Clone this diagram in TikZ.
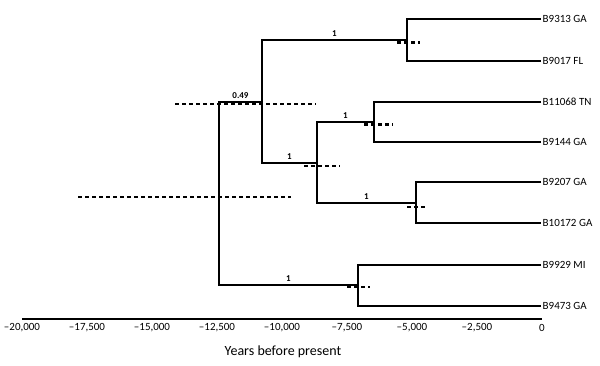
\documentclass[tikz,border=0pt]{standalone}
\usepackage{fontspec}
\setmainfont{Carlito}
\begin{document}
\begin{tikzpicture}[x=1pt,y=-1pt,
  tree/.style={line width=1.3pt},
  hpd/.style={line width=2.4pt,dash pattern=on 3.5pt off 3.5pt},
  tip/.style={anchor=west,inner sep=1.5pt,font=\fontsize{11}{13}\selectfont},
  lbl/.style={above=2.5pt,inner sep=0.5pt,font=\bfseries\fontsize{9}{10}\selectfont},
  ticklab/.style={font=\fontsize{11}{13}\selectfont},
  axis/.style={line width=1.6pt}]
\useasboundingbox (0,0) rectangle (600,365);
% tips
\node[tip] (t1) at (541,19) {B9313 GA};
\node[tip] (t2) at (541,61) {B9017 FL};
\node[tip] (t3) at (541,102) {B11068 TN};
\node[tip] (t4) at (541,142) {B9144 GA};
\node[tip] (t5) at (541,182) {B9207 GA};
\node[tip] (t6) at (541,223) {B10172 GA};
\node[tip] (t7) at (541,265) {B9929 MI};
\node[tip] (t8) at (541,306) {B9473 GA};
% internal nodes
\coordinate (n1) at (407,40);
\coordinate (n2) at (374,122);
\coordinate (n3) at (416,203);
\coordinate (n4) at (317,163);
\coordinate (n5) at (262,102);
\coordinate (n6) at (358,285);
\coordinate (root) at (219,194);
% HPD bars
\draw[hpd] (397,42.5) -- (420,42.5);
\draw[hpd] (364,124.5) -- (393,124.5);
\draw[hpd] (407,207) -- (428,207);
\draw[hpd] (304,166) -- (340,166);
\draw[hpd] (175,104) -- (316,104);
\draw[hpd] (347,287) -- (370,287);
\draw[hpd] (78,197) -- (291,197);
% tree
\draw[tree] (t1.west) -| (n1) |- (t2.west);
\draw[tree] (t3.west) -| (n2) |- (t4.west);
\draw[tree] (t5.west) -| (n3) |- (t6.west);
\draw[tree] (t7.west) -| (n6) |- (t8.west);
\draw[tree] (n2) -- node[lbl]{1} (n2 -| n4) -- (n4);
\draw[tree] (n4) |- node[lbl,pos=0.75]{1} (n3);
\draw[tree] (n1) -- node[lbl]{1} (n1 -| n5) -- (n5);
\draw[tree] (n5) |- node[lbl,pos=0.75]{1} (n4);
\draw[tree] (n5) -- node[lbl]{0.49} (n5 -| root) -- (root);
\draw[tree] (root) |- node[lbl,pos=0.75]{1} (n6);
% axis
\draw[axis] (22,319) -- (542,319);
\foreach \i/\lab in {0/{–20,000},1/{–17,500},2/{–15,000},3/{–12,500},4/{–10,000},5/{–7,500},6/{–5,000},7/{–2,500},8/{0}}
  \node[ticklab] (tk\i) at ({22+65*\i},327.5) {\lab};
\node[font=\fontsize{14}{16}\selectfont] (xt) at (283,352) {Years before present};
\end{tikzpicture}
\end{document}
